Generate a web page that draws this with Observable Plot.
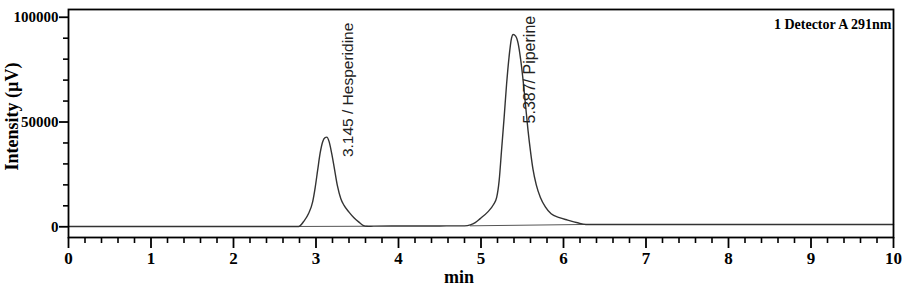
<!DOCTYPE html>
<html>
<head>
<meta charset="utf-8">
<script src="https://cdn.jsdelivr.net/npm/d3@7"></script>
<script src="https://cdn.jsdelivr.net/npm/@observablehq/plot@0.6"></script>
<style>
  html, body { margin: 0; padding: 0; background: #fff; }
  #chart { width: 903px; height: 293px; overflow: hidden; }
</style>
</head>
<body>
<div id="chart"></div>
<script>
// Chromatogram trace (time in min, intensity in µV)
const traceTime = [0, 1, 2, 2.7, 2.79, 2.85, 2.91, 2.96, 2.99, 3.02, 3.05, 3.08, 3.11, 3.13, 3.16, 3.19, 3.22, 3.26, 3.30, 3.34, 3.40, 3.46, 3.52, 3.57, 3.62, 3.7, 4.0, 4.5, 4.8, 4.87, 4.93, 4.99, 5.08, 5.15, 5.19, 5.22, 5.25, 5.28, 5.31, 5.34, 5.37, 5.39, 5.42, 5.45, 5.48, 5.51, 5.54, 5.57, 5.60, 5.63, 5.67, 5.72, 5.78, 5.85, 5.95, 6.05, 6.17, 6.27, 6.4, 7, 8, 9, 10];
const traceValue = [100, 100, 100, 100, 150, 2500, 6300, 12000, 18700, 27000, 35100, 40500, 42600, 42800, 40500, 35000, 28500, 19500, 13500, 10200, 7000, 4300, 2200, 700, 250, 300, 350, 400, 450, 900, 2000, 3900, 7000, 10500, 14000, 22000, 37000, 52000, 68000, 81000, 90000, 91800, 91000, 87500, 80000, 70000, 58000, 46000, 36000, 27500, 20000, 14000, 9500, 6200, 4400, 3200, 1900, 1100, 1100, 1100, 1100, 1100, 1100];

// Integration baselines under the peaks
const baseTime = [[2.79, 3.62], [4.87, 6.27]];
const baseValue = [[150, 250], [450, 1100]];

// Peak annotations
const peakTime = [3.145, 5.387];
const peakValue = [42800, 91800];
const peakLabel = ["3.145 / Hesperidine", "5.387/ Piperine"];

// Axis ticks
const xMajorTicks = [0, 1, 2, 3, 4, 5, 6, 7, 8, 9, 10];
const xMinorTicks = [0.2, 0.4, 0.6, 0.8, 1.2, 1.4, 1.6, 1.8, 2.2, 2.4, 2.6, 2.8, 3.2, 3.4, 3.6, 3.8, 4.2, 4.4, 4.6, 4.8, 5.2, 5.4, 5.6, 5.8, 6.2, 6.4, 6.6, 6.8, 7.2, 7.4, 7.6, 7.8, 8.2, 8.4, 8.6, 8.8, 9.2, 9.4, 9.6, 9.8];
const yMajorTicks = [0, 50000, 100000];
const yMinorTicks = [10000, 20000, 30000, 40000, 60000, 70000, 80000, 90000];

const xTitle = "min";
const yTitle = "Intensity (µV)";
const legendText = "1 Detector A 291nm";

const trace = traceTime.map((t, i) => ({t, v: traceValue[i]}));
const baselines = baseTime.flatMap((ts, k) => ts.map((t, i) => ({k, t, v: baseValue[k][i]})));
const peaks = peakTime.map((t, i) => ({t, v: peakValue[i], label: peakLabel[i]}));

const peakTextOpts = {x: "t", y: "v", text: "label", rotate: -90, textAnchor: "start", lineAnchor: "bottom",
  fontFamily: "'Liberation Sans', Arial, sans-serif", fontWeight: "normal", fill: "#222"};

const chart = Plot.plot({
  width: 903,
  height: 293,
  marginLeft: 68,
  marginRight: 10,
  marginTop: 9,
  marginBottom: 56,
  style: {fontFamily: "'Liberation Serif', serif", fontWeight: "bold", fontSize: "15px", color: "#000", background: "#fff"},
  x: {domain: [0, 10]},
  y: {domain: [-5120, 103700]},
  marks: [
    Plot.line(baselines, {x: "t", y: "v", z: "k", stroke: "#555", strokeWidth: 1}),
    Plot.line(trace, {x: "t", y: "v", curve: "monotone-x", stroke: "#333", strokeWidth: 1.4}),
    Plot.frame({stroke: "#000", strokeWidth: 1.8}),
    Plot.axisX(xMinorTicks, {tickSize: 6, text: null, strokeWidth: 1.6, label: null}),
    Plot.axisX(xMajorTicks, {tickSize: 11, tickPadding: 3, strokeWidth: 1.8, fontSize: 17, tickFormat: "d", label: null}),
    Plot.axisY(yMinorTicks, {tickSize: 5, text: null, strokeWidth: 1.6, label: null}),
    Plot.axisY(yMajorTicks, {tickSize: 9, tickPadding: 1, strokeWidth: 1.8, fontSize: 15, tickFormat: "d", label: null}),
    Plot.text([xTitle], {text: d => d, frameAnchor: "bottom", textAnchor: "middle", dx: -22, dy: 45, fontSize: 18}),
    Plot.text([yTitle], {text: d => d, frameAnchor: "left", textAnchor: "middle", rotate: -90, dx: -56, dy: -7, fontSize: 18}),
    Plot.text([legendText], {text: d => d, frameAnchor: "top-right", textAnchor: "end", dx: -2, dy: 10, fontSize: 14}),
    Plot.text(peaks.slice(0, 1), {...peakTextOpts, fontSize: 15.5, dx: 25, dy: 20}),
    Plot.text(peaks.slice(1, 2), {...peakTextOpts, fontSize: 16, dx: 22, dy: 89})
  ]
});
document.getElementById("chart").appendChild(chart);
</script>
</body>
</html>
